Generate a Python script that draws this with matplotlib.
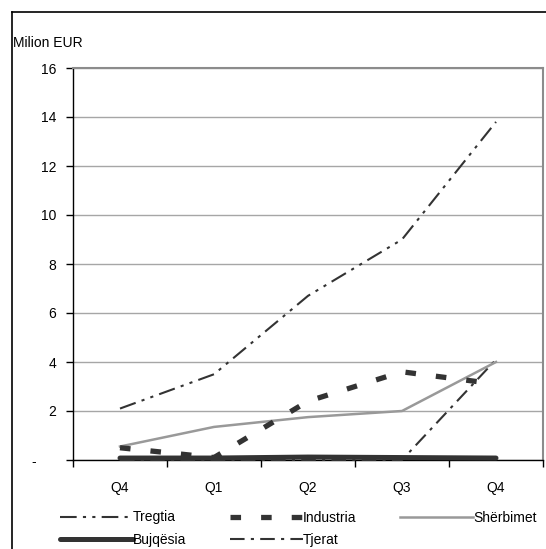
import matplotlib
matplotlib.use("Agg")
import matplotlib.pyplot as plt
from matplotlib.lines import Line2D
import numpy as np

plt.rcParams['font.family'] = ['Liberation Sans', 'DejaVu Sans']

# --- data ---
quarters = ['Q4', 'Q1', 'Q2', 'Q3', 'Q4']
tregtia = [2.1, 3.5, 6.7, 9.0, 13.8]
industria = [0.5, 0.1, 2.4, 3.6, 3.1]
sherbimet = [0.55, 1.35, 1.75, 2.0, 4.0]
bujqesia = [0.08, 0.08, 0.12, 0.1, 0.08]
tjerat = [0.0, 0.0, 0.0, 0.0, 4.1]
yticks = [0, 2, 4, 6, 8, 10, 12, 14, 16]
ytick_labels = ['-     ', '2', '4', '6', '8', '10', '12', '14', '16']

dark = '#333333'
grey = '#999999'
fs = 10

fig = plt.figure(figsize=(5.46, 5.49), dpi=100)
ax = fig.add_axes([73 / 546, 1 - 460 / 549, 470 / 546, 392 / 549])

x = np.arange(len(quarters))

ax.plot(x, tjerat, color=dark, lw=1.5, ls=(0, (7, 3, 1.5, 3)),
        label='Tjerat', zorder=3, clip_on=False)
ax.plot(x, bujqesia, color=dark, lw=3.6, solid_capstyle='round',
        label='Bujqësia', zorder=4, clip_on=False)
ax.plot(x, sherbimet, color=grey, lw=1.8, label='Shërbimet', zorder=5)
ax.plot(x, industria, color=dark, lw=3.8, ls=(0, (2.0, 3.8)),
        label='Industria', zorder=6)
ax.plot(x, tregtia, color=dark, lw=1.5, ls=(0, (8, 3, 1.5, 3, 1.5, 3)),
        label='Tregtia', zorder=7)

ax.set_xlim(-0.5, len(quarters) - 0.5)
ax.set_ylim(0, 16)
ax.set_yticks(yticks)
ax.set_yticklabels(ytick_labels)
ax.set_xticks(x)
ax.set_xticklabels(quarters)
ax.set_xticks(np.arange(-0.5, len(quarters)), minor=True)
ax.tick_params(axis='x', which='major', length=0, pad=15, labelsize=fs)
ax.tick_params(axis='x', which='minor', length=5, width=1, color='black')
ax.tick_params(axis='y', length=5, width=1, pad=7, labelsize=fs)

ax.grid(axis='y', color='#a6a6a6', lw=1)
ax.set_axisbelow(True)
for s in ['top', 'right']:
    ax.spines[s].set_color('#8c8c8c')
    ax.spines[s].set_linewidth(1.5)
for s in ['left', 'bottom']:
    ax.spines[s].set_color('black')
    ax.spines[s].set_linewidth(1.0)

fig.text(13 / 546, 1 - 43 / 549, 'Milion EUR', fontsize=fs, va='center', ha='left')

# figure frame (top and left edges visible)
fig.add_artist(Line2D([12 / 546, 1], [1 - 12 / 549, 1 - 12 / 549], color='black', lw=1.2))
fig.add_artist(Line2D([12 / 546, 12 / 546], [0, 1 - 12 / 549], color='black', lw=1.2))

handles, labels = ax.get_legend_handles_labels()
order = ['Tregtia', 'Bujqësia', 'Industria', 'Tjerat', 'Shërbimet']
hmap = dict(zip(labels, handles))
fig.legend([hmap[k] for k in order], order, ncol=3, frameon=False,
           fontsize=fs, handlelength=5.3, handletextpad=0.0,
           columnspacing=3.1, labelspacing=0.62,
           loc='upper left', bbox_to_anchor=(47 / 546, 1 - 498 / 549))

fig.savefig('out.png', dpi=100)
